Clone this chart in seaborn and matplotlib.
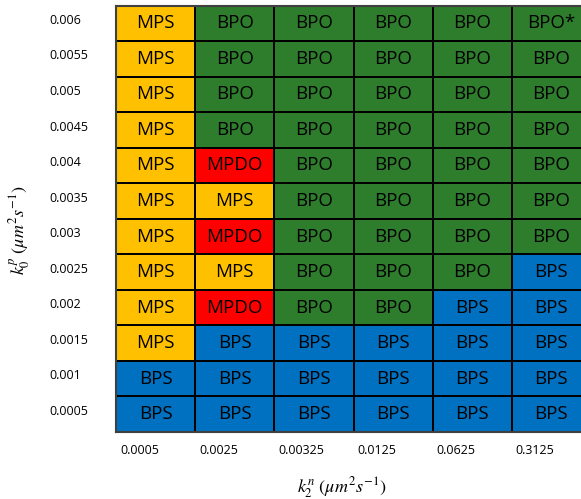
import numpy as np
import pandas as pd
import seaborn as sns
import matplotlib
matplotlib.use("Agg")
import matplotlib.pyplot as plt
from matplotlib.colors import ListedColormap

# Axis values
k2n_values = ["0.0005", "0.0025", "0.00325", "0.0125", "0.0625", "0.3125"]
k0p_values = ["0.006", "0.0055", "0.005", "0.0045", "0.004", "0.0035",
              "0.003", "0.0025", "0.002", "0.0015", "0.001", "0.0005"]

# Regime found for each (k0p, k2n) pair, rows listed from the top
regimes = [
    ["MPS", "BPO",  "BPO", "BPO", "BPO", "BPO*"],
    ["MPS", "BPO",  "BPO", "BPO", "BPO", "BPO"],
    ["MPS", "BPO",  "BPO", "BPO", "BPO", "BPO"],
    ["MPS", "BPO",  "BPO", "BPO", "BPO", "BPO"],
    ["MPS", "MPDO", "BPO", "BPO", "BPO", "BPO"],
    ["MPS", "MPS",  "BPO", "BPO", "BPO", "BPO"],
    ["MPS", "MPDO", "BPO", "BPO", "BPO", "BPO"],
    ["MPS", "MPS",  "BPO", "BPO", "BPO", "BPS"],
    ["MPS", "MPDO", "BPO", "BPO", "BPS", "BPS"],
    ["MPS", "BPS",  "BPS", "BPS", "BPS", "BPS"],
    ["BPS", "BPS",  "BPS", "BPS", "BPS", "BPS"],
    ["BPS", "BPS",  "BPS", "BPS", "BPS", "BPS"],
]

regime_order = ["BPS", "MPS", "MPDO", "BPO"]
regime_colors = ["#0070C0", "#FFC000", "#FF0000", "#2E7D2C"]

labels = pd.DataFrame(regimes, index=k0p_values, columns=k2n_values)
codes = labels.apply(lambda col: col.str.rstrip("*").map(regime_order.index))

plt.rcParams["mathtext.fontset"] = "stix"
plt.rcParams["font.family"] = ["Open Sans", "DejaVu Sans"]

fig = plt.figure(figsize=(5.81, 4.99), dpi=100)
ax = fig.add_axes([116 / 581, 1 - 432 / 499, 475 / 581, 426.5 / 499])

sns.heatmap(codes, ax=ax, cmap=ListedColormap(regime_colors),
            vmin=-0.5, vmax=3.5, cbar=False,
            annot=labels.values, fmt="", annot_kws={"fontsize": 13.5, "color": "black"},
            linewidths=1.3, linecolor="black")

for side in ax.spines.values():
    side.set_visible(True)
    side.set_color("#404040")
    side.set_linewidth(1.5)

ax.set_xticks(np.arange(len(k2n_values)) + 0.05)
ax.set_xticklabels(k2n_values, rotation=0, ha="left", fontsize=9)
ax.set_yticks(np.arange(len(k0p_values)) + 0.42)
ax.set_yticklabels(k0p_values, rotation=0, ha="left", fontsize=9)
ax.tick_params(axis="both", length=0)
ax.tick_params(axis="x", pad=9)
ax.tick_params(axis="y", pad=48)

ax.set_xlabel(r"$k_2^n\ (\mu m^2 s^{-1})$", fontsize=13)
ax.set_ylabel(r"$k_0^p\ (\mu m^2 s^{-1})$", fontsize=13)
ax.xaxis.set_label_coords((342 - 116) / 475, -(475 - 432) / 426.5)
ax.yaxis.set_label_coords((32 - 116) / 475, 1 - (230 - 5.5) / 426.5)

fig.savefig("out.png", dpi=100)
